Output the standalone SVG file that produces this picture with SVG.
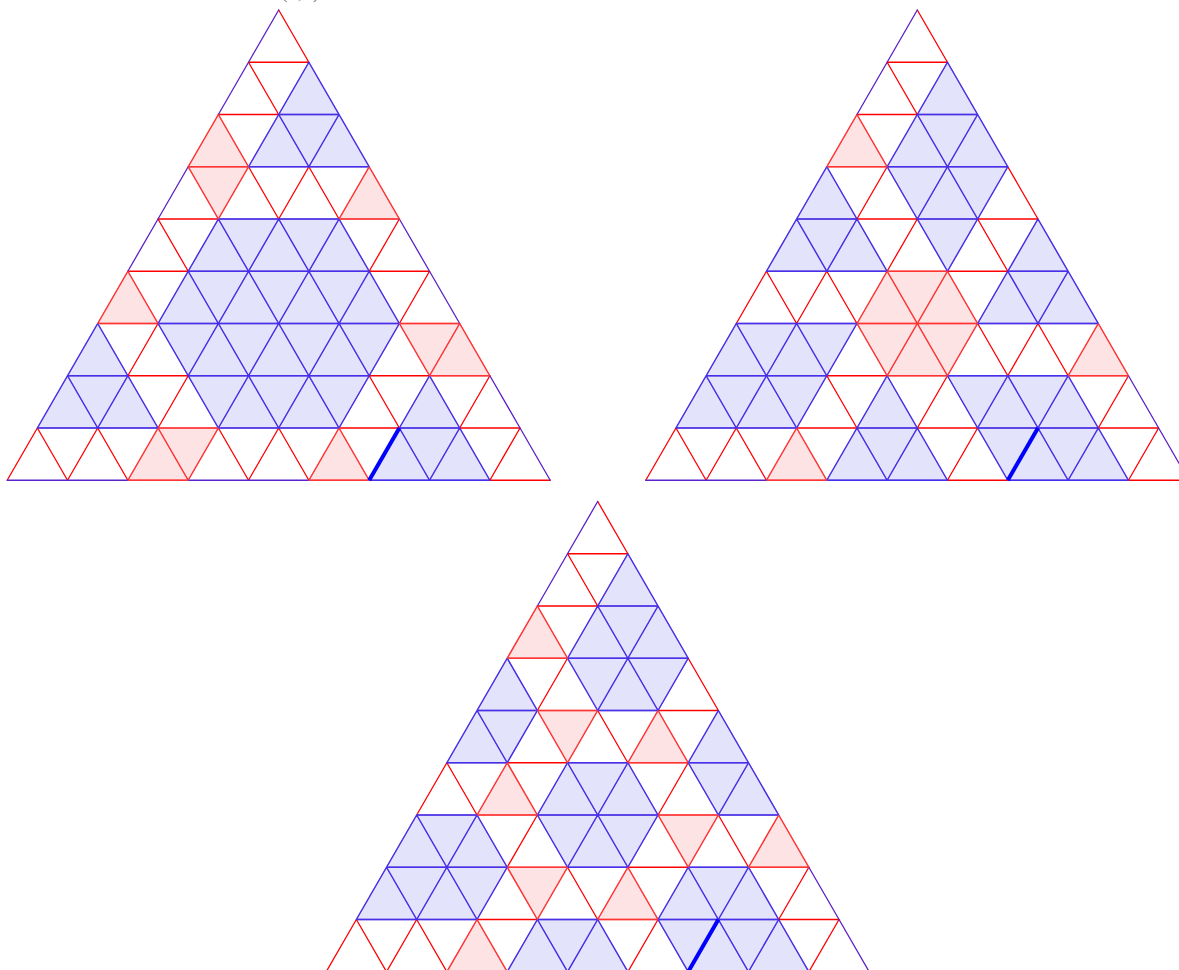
<svg xmlns="http://www.w3.org/2000/svg" xmlns:xlink="http://www.w3.org/1999/xlink" width="1179" height="970" viewBox="0 0 1179 970">
<style>
.bg{fill:#ffffff}
.fb{fill:#e3e3fb;stroke:none}
.fr{fill:#fde3e3;stroke:none}
.ln{fill:none;stroke-width:1.3;stroke-linejoin:round;stroke-linecap:round}
.r{stroke:#ff0000}
.b{stroke:#5a22c8}
.ob{fill:none;stroke:#3a3aff;stroke-opacity:0.6;stroke-width:1.3;stroke-linejoin:round}
.or{fill:none;stroke:#ff6a6a;stroke-opacity:0.5;stroke-width:1.3;stroke-linejoin:round}
.thick{fill:none;stroke:#0000ff;stroke-width:4}
.lbl{font-family:"Liberation Serif",serif;font-size:20px;fill:#888888}
</style>
<defs>
<path id="t1b" vector-effect="non-scaling-stroke" d="M1 1v1h1z M1 2v1h1z M1 2h1v1z M2 2v1h1z M1 4v1h1z M1 4h1v1z M2 4v1h1z M2 4h1v1z M3 4v1h1z M1 5v1h1z M1 5h1v1z M2 5v1h1z M2 5h1v1z M3 5v1h1z M3 5h1v1z M4 5v1h1z M0 6v1h1z M1 6h1v1z M2 6v1h1z M2 6h1v1z M3 6v1h1z M3 6h1v1z M4 6v1h1z M4 6h1v1z M0 7v1h1z M0 7h1v1z M1 7v1h1z M2 7h1v1z M3 7v1h1z M3 7h1v1z M4 7v1h1z M4 7h1v1z M6 7v1h1z M6 8v1h1z M6 8h1v1z M7 8v1h1z"/>
<path id="t1r" vector-effect="non-scaling-stroke" d="M0 2v1h1z M0 3h1v1z M3 3v1h1z M0 5v1h1z M5 6h1v1z M6 6v1h1z M2 8v1h1z M2 8h1v1z M5 8v1h1z"/>
<path id="t2b" vector-effect="non-scaling-stroke" d="M1 1v1h1z M1 2v1h1z M1 2h1v1z M2 2v1h1z M0 3v1h1z M1 3h1v1z M2 3v1h1z M2 3h1v1z M0 4v1h1z M0 4h1v1z M1 4v1h1z M2 4h1v1z M4 4v1h1z M4 5v1h1z M4 5h1v1z M5 5v1h1z M0 6v1h1z M0 6h1v1z M1 6v1h1z M1 6h1v1z M0 7v1h1z M0 7h1v1z M1 7v1h1z M1 7h1v1z M3 7v1h1z M4 7h1v1z M5 7v1h1z M5 7h1v1z M6 7v1h1z M3 8v1h1z M3 8h1v1z M4 8v1h1z M5 8h1v1z M6 8v1h1z M6 8h1v1z M7 8v1h1z"/>
<path id="t2r" vector-effect="non-scaling-stroke" d="M0 2v1h1z M2 5v1h1z M2 5h1v1z M3 5v1h1z M2 6h1v1z M3 6v1h1z M3 6h1v1z M6 6v1h1z M2 8v1h1z"/>
<path id="t3b" vector-effect="non-scaling-stroke" d="M1 1v1h1z M1 2v1h1z M1 2h1v1z M2 2v1h1z M0 3v1h1z M1 3h1v1z M2 3v1h1z M2 3h1v1z M0 4v1h1z M0 4h1v1z M4 4v1h1z M2 5v1h1z M2 5h1v1z M3 5v1h1z M4 5h1v1z M5 5v1h1z M0 6v1h1z M0 6h1v1z M1 6v1h1z M2 6h1v1z M3 6v1h1z M3 6h1v1z M0 7v1h1z M0 7h1v1z M1 7v1h1z M1 7h1v1z M5 7v1h1z M5 7h1v1z M6 7v1h1z M3 8v1h1z M3 8h1v1z M4 8v1h1z M5 8h1v1z M6 8v1h1z M6 8h1v1z M7 8v1h1z"/>
<path id="t3r" vector-effect="non-scaling-stroke" d="M0 2v1h1z M1 4h1v1z M3 4v1h1z M1 5v1h1z M4 6h1v1z M6 6v1h1z M2 7h1v1z M4 7v1h1z M2 8v1h1z"/>
</defs>
<rect class="bg" x="0" y="0" width="1179" height="970"/>
<text id="label" class="lbl" x="281" y="-2.5">(1,1)</text>

<g id="triangle-1" transform="matrix(60.333,0,-30.167,52.25,278.7,10)">
<use xlink:href="#t1b" class="fb"/>
<use xlink:href="#t1r" class="fr"/>
<g id="t1-connectors">
<path class="ln r" vector-effect="non-scaling-stroke" d="M0 0l1 1M0 1h1M0 1l1 1M0 2h1M0 4h1M1 3l1 1M2 3v1M2 3l1 1M0 4l1 1M0 5h1M4 4v1M4 5h1M5 5v1M1 6v1M1 7h1M5 7h1M2 7v1M5 7l1 1M5 8h1M7 7v1M7 8h1M0 8v1M0 8l1 1M1 8v1M1 8l1 1M3 8l1 1M4 8v1M4 8l1 1M8 8v1M8 9h1"/>
<use xlink:href="#t1r" class="ln r"/>
<path class="ln b" vector-effect="non-scaling-stroke" d="M0 0v1M0 1v1M0 3v1M0 4v1M4 4l1 1M5 5l1 1M7 7l1 1M8 8l1 1M0 9h1M1 9h1M3 9h1M4 9h1"/>
<use xlink:href="#t1b" class="ln b"/>
<use xlink:href="#t1b" class="ob"/>
<use xlink:href="#t1r" class="or"/>
<path class="thick" vector-effect="non-scaling-stroke" d="M6 8v1"/>
</g>
</g>

<g id="triangle-2" transform="matrix(60.333,0,-30.167,52.25,917.3,10)">
<use xlink:href="#t2b" class="fb"/>
<use xlink:href="#t2r" class="fr"/>
<g id="t2-connectors">
<path class="ln r" vector-effect="non-scaling-stroke" d="M0 0l1 1M0 1h1M0 1l1 1M0 2h1M1 3v1M1 4h1M3 3l1 1M3 4h1M2 4v1M3 4l1 1M3 5h1M0 5v1M0 5l1 1M1 5v1M1 5l1 1M2 7h1M4 6l1 1M5 6v1M5 6l1 1M2 7l1 1M2 8h1M4 7v1M4 8h1M7 7v1M7 8h1M0 8v1M0 8l1 1M1 8v1M1 8l1 1M5 8v1M5 9h1M8 8v1M8 9h1"/>
<use xlink:href="#t2r" class="ln r"/>
<path class="ln b" vector-effect="non-scaling-stroke" d="M0 0v1M0 1v1M7 7l1 1M8 8l1 1M0 9h1M1 9h1"/>
<use xlink:href="#t2b" class="ln b"/>
<use xlink:href="#t2b" class="ob"/>
<use xlink:href="#t2r" class="or"/>
<path class="thick" vector-effect="non-scaling-stroke" d="M6 8v1"/>
</g>
</g>

<g id="triangle-3" transform="matrix(60.333,0,-30.167,52.25,597.7,501.5)">
<use xlink:href="#t3b" class="fb"/>
<use xlink:href="#t3r" class="fr"/>
<g id="t3-connectors">
<path class="ln r" vector-effect="non-scaling-stroke" d="M0 0l1 1M0 1h1M0 1l1 1M0 2h1M1 3v1M3 3l1 1M3 4h1M1 5h1M2 4l1 1M0 5v1M0 5l1 1M4 5v1M2 6v1M4 7h1M5 6l1 1M2 8h1M3 7l1 1M7 7v1M7 8h1M0 8v1M0 8l1 1M1 8v1M1 8l1 1M5 8v1M5 9h1M8 8v1M8 9h1"/>
<use xlink:href="#t3r" class="ln r"/>
<path class="ln b" vector-effect="non-scaling-stroke" d="M0 0v1M0 1v1M7 7l1 1M8 8l1 1M0 9h1M1 9h1"/>
<use xlink:href="#t3b" class="ln b"/>
<use xlink:href="#t3b" class="ob"/>
<use xlink:href="#t3r" class="or"/>
<path class="thick" vector-effect="non-scaling-stroke" d="M6 8v1"/>
</g>
</g>
</svg>
